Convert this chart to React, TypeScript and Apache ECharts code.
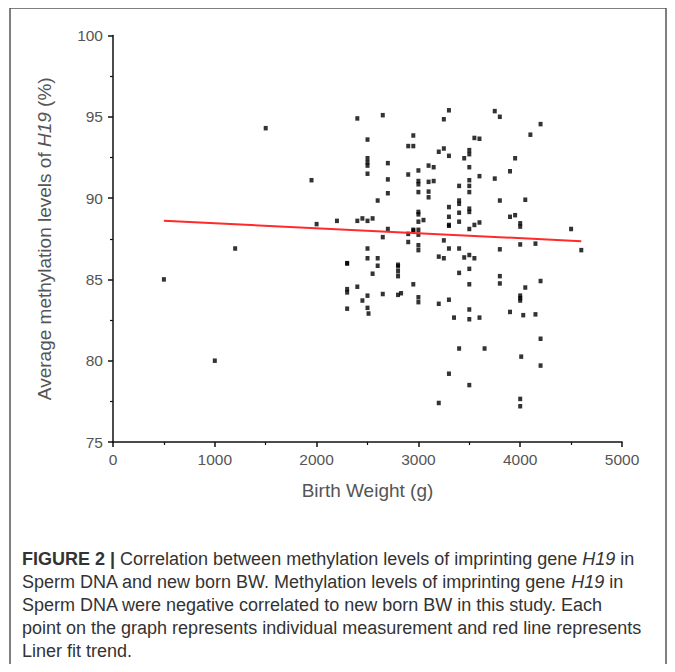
import React, { useEffect, useRef } from "react";
import * as echarts from "echarts";

// Birth weight (g) and H19 methylation (%)
const birthWeight: number[] = [
  500, 1000, 1200, 1500, 1950, 2000,
  2200, 2300, 2300, 2300, 2300, 2300,
  2400, 2400, 2400, 2450, 2450,
  2500, 2500, 2500, 2500, 2500, 2500, 2500, 2500, 2500, 2500, 2510,
  2550, 2550, 2600, 2600, 2600, 2650, 2650, 2650,
  2700, 2700, 2700, 2700, 2800, 2800, 2800, 2800, 2800, 2830,
  2900, 2900, 2900, 2900, 2950, 2950, 2950, 2950, 2950,
  3000, 3000, 3000, 3000, 3000, 3000, 3000, 3000, 3000, 3000, 3000, 3000, 3000, 3050,
  3100, 3100, 3100, 3100, 3150, 3150,
  3200, 3200, 3200, 3200, 3250, 3250, 3250, 3250,
  3300, 3300, 3300, 3300, 3300, 3300, 3300, 3300, 3300, 3350,
  3400, 3400, 3400, 3400, 3400, 3400, 3400, 3400,
  3450, 3450,
  3500, 3500, 3500, 3500, 3500, 3500, 3500, 3500, 3500, 3500, 3500, 3500, 3500, 3500, 3500,
  3550, 3550, 3550, 3600, 3600, 3600, 3600, 3650,
  3750, 3750, 3800, 3800, 3800, 3800, 3800,
  3900, 3900, 3900, 3950, 3950,
  4000, 4000, 4000, 4000, 4000, 4000, 4000, 4000, 4010, 4030, 4050, 4050,
  4100, 4150, 4150, 4200, 4200, 4200, 4200, 4500, 4600,
];
const methylation: number[] = [
  85.0, 80.0, 86.9, 94.3, 91.1, 88.4,
  88.6, 86.0, 84.4, 84.2, 83.2, 85.98,
  94.9, 88.6, 84.55, 88.75, 83.7,
  93.6, 92.45, 92.2, 92.0, 91.5, 86.9, 84.0, 83.25, 88.6, 86.3, 82.9,
  88.75, 85.35, 89.85, 86.3, 85.84, 95.1, 87.6, 84.1,
  92.15, 91.15, 90.3, 88.1, 85.8, 85.5, 85.2, 85.9, 84.05, 84.15,
  93.2, 91.45, 87.8, 87.3, 93.85, 93.2, 88.0, 84.7, 88.05,
  91.7, 91.05, 90.85, 90.37, 89.15, 89.0, 88.55, 88.05, 87.1, 86.8, 83.9, 83.6, 87.75, 88.65,
  92.0, 91.0, 90.4, 90.05, 91.9, 91.05,
  92.85, 86.4, 83.5, 77.4, 94.85, 93.05, 87.4, 86.3,
  95.4, 92.6, 89.45, 88.85, 88.35, 88.3, 86.9, 83.75, 79.2, 82.65,
  90.75, 89.85, 89.65, 89.1, 88.55, 86.9, 85.4, 80.75,
  92.45, 86.35,
  92.95, 92.7, 91.9, 91.1, 90.75, 90.37, 89.35, 89.15, 88.1, 86.5, 85.65, 84.7, 83.15, 82.55, 78.5,
  93.7, 88.35, 86.3, 93.65, 91.35, 88.5, 82.65, 80.75,
  95.35, 91.2, 95.0, 89.85, 86.85, 85.2, 84.75,
  91.65, 88.85, 83.0, 92.45, 88.95,
  88.45, 88.25, 87.15, 84.0, 83.7, 77.65, 77.2, 83.85, 80.25, 82.8, 89.9, 84.5,
  93.9, 87.2, 82.85, 94.55, 81.35, 79.7, 84.9, 88.1, 86.8,
];

// Linear fit trend line end points
const fitX: number[] = [500, 4600];
const fitY: number[] = [88.6, 87.35];

const captionLines: string[] = [
  "{b|FIGURE 2 |} Correlation between methylation levels of imprinting gene {i|H19} in",
  "Sperm DNA and new born BW. Methylation levels of imprinting gene {i|H19} in",
  "Sperm DNA were negative correlated to new born BW in this study. Each",
  "point on the graph represents individual measurement and red line represents",
  "Liner fit trend.",
];

export default function App() {
  const ref = useRef<HTMLDivElement>(null);
  useEffect(() => {
    if (!ref.current) return;
    const chart = echarts.init(ref.current, null, { renderer: "svg" });
    const font = "'Liberation Sans', Arial, sans-serif";
    const labelColor = "#555";
    const axisColor = "#111";
    const capSize = 18;
    const nameSize = 19;
    const tickSize = 15.5;
    const scatterData = birthWeight.map((x, i) => [x, methylation[i]]);
    const fitData = fitX.map((x, i) => [x, fitY[i]]);
    const capRich = {
      b: { fontWeight: "bold", fontSize: capSize, fontFamily: font, fill: "#333", color: "#333" },
      i: { fontStyle: "italic", fontSize: capSize, fontFamily: font, fill: "#333", color: "#333" },
    };
    chart.setOption({
      animation: false,
      backgroundColor: "#fff",
      grid: { left: 113, right: 53, top: 35.5, bottom: 230, containLabel: false },
      xAxis: {
        type: "value",
        min: 0,
        max: 5000,
        interval: 1000,
        name: "Birth Weight (g)",
        nameLocation: "middle",
        nameGap: 39,
        nameTextStyle: { fontSize: nameSize, color: labelColor, fontFamily: font },
        axisLine: { show: true, lineStyle: { color: axisColor, width: 1.5 } },
        axisTick: { show: true, length: 5, lineStyle: { color: axisColor, width: 1.5 } },
        minorTick: { show: true, splitNumber: 2, length: 3, lineStyle: { color: axisColor, width: 1.2 } },
        axisLabel: {
          fontSize: tickSize,
          color: labelColor,
          fontFamily: font,
          margin: 9,
          formatter: (v: number) => String(v),
        },
        splitLine: { show: false },
      },
      yAxis: {
        type: "value",
        min: 75,
        max: 100,
        interval: 5,
        name: "Average methylation levels of {i|H19} (%)",
        nameLocation: "middle",
        nameGap: 59.5,
        nameRotate: 90,
        nameTextStyle: {
          fontSize: nameSize,
          color: labelColor,
          fontFamily: font,
          rich: { i: { fontStyle: "italic", fontSize: nameSize, color: labelColor, fontFamily: font } },
        },
        axisLine: { show: true, lineStyle: { color: axisColor, width: 1.5 } },
        axisTick: { show: true, length: 5, lineStyle: { color: axisColor, width: 1.5 } },
        minorTick: { show: true, splitNumber: 2, length: 3, lineStyle: { color: axisColor, width: 1.2 } },
        axisLabel: { fontSize: tickSize, color: labelColor, fontFamily: font, margin: 10 },
        splitLine: { show: false },
      },
      series: [
        {
          type: "scatter",
          data: scatterData,
          symbol: "rect",
          symbolSize: [4, 4.5],
          itemStyle: { color: "#000" },
        },
        {
          type: "line",
          data: fitData,
          symbol: "none",
          lineStyle: { color: "#ff2a2a", width: 2 },
        },
      ],
      graphic: [
        {
          type: "rect",
          shape: { x: 10, y: 8, width: 656, height: 700 },
          style: { fill: "none", stroke: "#555", lineWidth: 1.5 },
          silent: true,
        },
        ...captionLines.map((t, k) => ({
          type: "text",
          x: 22,
          y: 559 + k * 23,
          style: {
            text: t,
            fontSize: capSize,
            fontFamily: font,
            fill: "#333",
            verticalAlign: "middle",
            rich: capRich,
          },
        })),
      ],
    });
    return () => chart.dispose();
  }, []);
  return <div ref={ref} style={{ width: 675, height: 672, margin: "-8px" }} />;
}
